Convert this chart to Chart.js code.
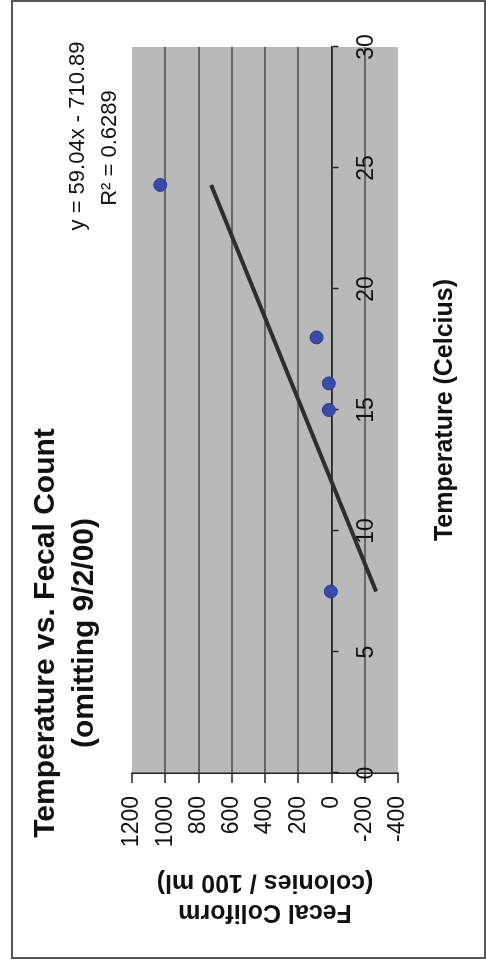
<!DOCTYPE html>
<html>
<head>
<meta charset="utf-8">
<title>Temperature vs. Fecal Count</title>
<script src="https://cdn.jsdelivr.net/npm/chart.js@4.4.1/dist/chart.umd.min.js"></script>
<style>
    html, body {
        margin: 0;
        padding: 0;
        background: #fff;
        overflow: hidden;
    }
    #frame {
        position: absolute;
        left: 11px;
        top: 0;
        width: 471px;
        height: 955px;
        border: 2px solid #555;
    }
    /* the chart is laid out landscape and turned a quarter turn onto the page */
    #wrap {
        position: absolute;
        left: 0;
        top: 0;
        width: 960px;
        height: 486px;
        transform-origin: 0 0;
        transform: translate(0, 960px) rotate(-90deg);
    }
</style>
</head>
<body>
<div id="wrap"><canvas id="myChart" width="960" height="486"></canvas></div>
<div id="frame"></div>
<script>
// water samples: temperature (C) and fecal coliform count
const temperature = [7.5, 15.0, 16.1, 18.0, 24.3];
const fecalCount = [4, 16, 16, 90, 1030];

// linear trendline as reported
const trendSlope = 59.04;
const trendIntercept = -710.89;
const trendR2 = 0.6289;

const titleLines = ['Temperature vs. Fecal Count', '(omitting 9/2/00)'];
const xTitle = 'Temperature (Celcius)';
const yTitle = ['Fecal Coliform', '(colonies / 100 ml)'];

const xMin = 0, xMax = 30, xStep = 5;
const yMin = -400, yMax = 1200, yStep = 200;

const FONT = "'Liberation Sans', Arial, Helvetica, sans-serif";
Chart.defaults.font.family = FONT;
Chart.defaults.color = '#111';

const points = temperature.map(function (t, i) {
    return { x: t, y: fecalCount[i] };
});

const tLow = Math.min.apply(null, temperature);
const tHigh = Math.max.apply(null, temperature);
const trendPoints = [
    { x: tLow, y: trendSlope * tLow + trendIntercept },
    { x: tHigh, y: trendSlope * tHigh + trendIntercept }
];

const eqText = 'y = ' + trendSlope.toFixed(2) + 'x - ' + Math.abs(trendIntercept).toFixed(2);
const r2Text = 'R\u00B2 = ' + trendR2.toFixed(4);

const plotBackground = {
    id: 'plotBackground',
    beforeDraw(chart) {
        const { ctx, chartArea } = chart;
        ctx.save();
        ctx.fillStyle = '#b9b9b9';
        ctx.fillRect(chartArea.left, chartArea.top,
            chartArea.right - chartArea.left, chartArea.bottom - chartArea.top);
        ctx.restore();
    }
};

// title, trendline label and the temperature axis title
const chartTexts = {
    id: 'chartTexts',
    afterDraw(chart) {
        const { ctx, chartArea } = chart;
        ctx.save();
        ctx.fillStyle = '#111';
        ctx.textAlign = 'center';
        ctx.textBaseline = 'middle';

        ctx.font = 'bold 30px ' + FONT;
        ctx.fillText(titleLines[0], 327, 46);
        ctx.fillText(titleLines[1], 327, 85);

        ctx.font = '22px ' + FONT;
        ctx.fillText(eqText, 824, 78);
        ctx.fillText(r2Text, 812, 110);

        ctx.font = 'bold 25px ' + FONT;
        ctx.fillText(xTitle, (chartArea.left + chartArea.right) / 2, 445);
        ctx.restore();
    }
};

const data = {
    datasets: [{
        label: 'Fecal count',
        data: points,
        pointStyle: 'circle',
        pointRadius: 6.5,
        backgroundColor: '#3b4aa8',
        borderColor: '#2c3a92',
        borderWidth: 1,
        showLine: false,
        order: 1
    }, {
        label: 'Linear trend',
        data: trendPoints,
        showLine: true,
        pointRadius: 0,
        borderColor: '#2e2e2e',
        borderWidth: 4,
        order: 2
    }]
};

const config = {
    type: 'scatter',
    data: data,
    options: {
        responsive: false,
        animation: false,
        layout: {
            padding: { left: 20, right: 47, top: 132, bottom: 88 }
        },
        plugins: {
            legend: { display: false },
            tooltip: { enabled: false }
        },
        scales: {
            x: {
                type: 'linear',
                min: xMin,
                max: xMax,
                position: { y: 0 },
                ticks: {
                    stepSize: xStep,
                    autoSkip: false,
                    maxRotation: 0,
                    padding: 15,
                    color: '#111',
                    font: { size: 23 }
                },
                grid: {
                    drawOnChartArea: false,
                    drawTicks: true,
                    tickLength: 6,
                    tickColor: '#222',
                    tickWidth: 1.5
                },
                border: { color: '#222', width: 1.5 }
            },
            y: {
                type: 'linear',
                min: yMin,
                max: yMax,
                position: 'left',
                afterFit: function (scale) {
                    scale.width = 167;
                },
                ticks: {
                    stepSize: yStep,
                    autoSkip: false,
                    padding: 13,
                    color: '#111',
                    font: { size: 23 },
                    callback: function (value) {
                        return String(value);
                    }
                },
                grid: {
                    color: function (ctx) {
                        if (ctx.tick && (ctx.tick.value === yMax || ctx.tick.value === yMin)) {
                            return 'rgba(0,0,0,0)';
                        }
                        return '#666';
                    },
                    lineWidth: 2,
                    tickLength: 10,
                    tickColor: '#222',
                    tickWidth: 1.5
                },
                border: { color: '#222', width: 1.5 },
                title: {
                    display: true,
                    text: yTitle,
                    color: '#111',
                    padding: { top: 13, bottom: 0 },
                    font: { size: 25, weight: 'bold', lineHeight: 1.2 }
                }
            }
        }
    },
    plugins: [plotBackground, chartTexts]
};

(function () {
    const myChart = new Chart(document.getElementById('myChart'), config);
})();
</script>
</body>
</html>
